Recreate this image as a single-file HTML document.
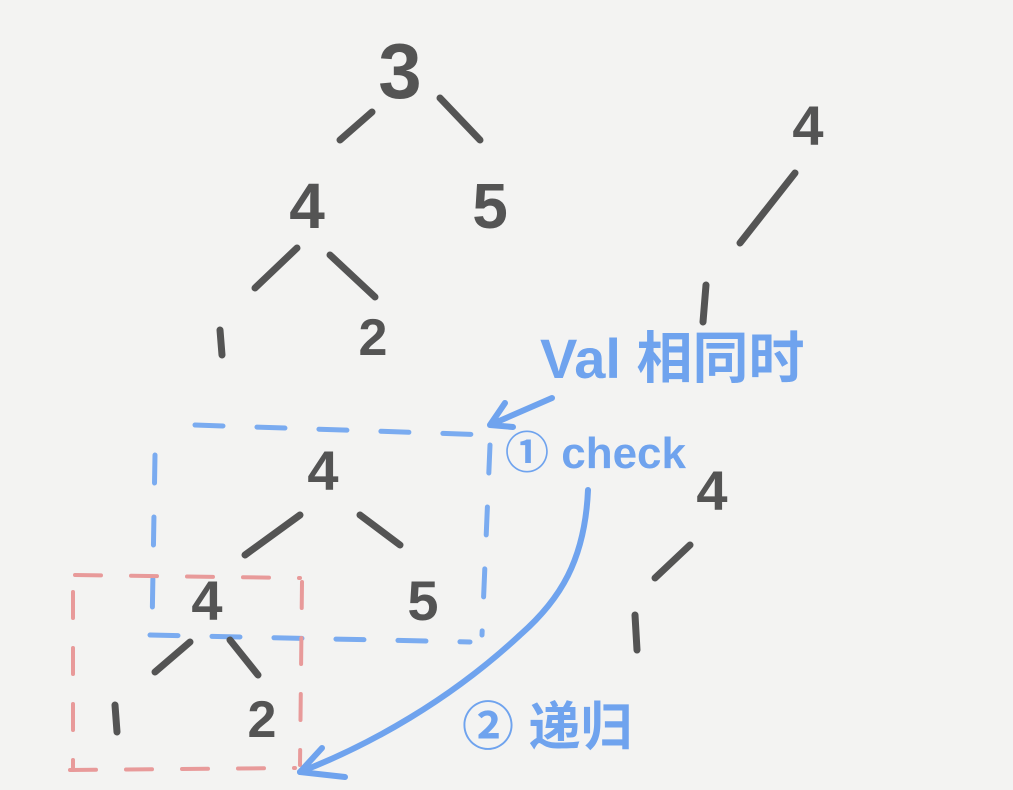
<!DOCTYPE html>
<html><head><meta charset="utf-8"><style>
html,body{margin:0;padding:0;background:#f3f3f2;}
svg{display:block}
.k{stroke:#545454;stroke-width:7;stroke-linecap:round;fill:none}
.b{stroke:#6fa3ee;stroke-width:6;stroke-linecap:round;fill:none}
.bd{stroke:#7aabf0;stroke-width:5;stroke-linecap:round;fill:none;stroke-dasharray:28 34}
.rd{stroke:#e89a9a;stroke-width:4;stroke-linecap:round;fill:none;stroke-dasharray:26 30}
.t{font-family:"Liberation Sans",sans-serif;fill:#545454;text-anchor:middle;font-weight:bold}
.bt{font-family:"Liberation Sans","Noto Sans CJK SC",sans-serif;fill:#6fa3ee;font-weight:bold}
</style></head><body>
<svg width="1013" height="790" viewBox="0 0 1013 790">
<rect width="1013" height="790" fill="#f3f3f2"/>
<text class="t" x="400" y="98" font-size="78">3</text>
<line class="k" x1="340" y1="140" x2="372" y2="112"/>
<line class="k" x1="440" y1="98" x2="480" y2="140"/>
<text class="t" x="307" y="228" font-size="64">4</text>
<text class="t" x="490" y="228" font-size="64">5</text>
<line class="k" x1="255" y1="288" x2="297" y2="248"/>
<line class="k" x1="330" y1="255" x2="375" y2="297"/>
<line class="k" x1="220" y1="330" x2="222" y2="355"/>
<text class="t" x="373" y="355" font-size="52">2</text>
<text class="t" x="808" y="145" font-size="56">4</text>
<line class="k" x1="795" y1="173" x2="740" y2="243"/>
<line class="k" x1="706" y1="285" x2="703" y2="322"/>
<text class="bt" x="540" y="378" font-size="56">Val 相同时</text>
<path class="b" d="M552 398 L490 425 M490 425 L505 403 M490 425 L513 427"/>
<text class="bt" x="505" y="468" font-size="44">① check</text>
<line class="bd" x1="195" y1="425" x2="490" y2="435"/>
<line class="bd" x1="155" y1="455" x2="152" y2="630"/>
<line class="bd" x1="150" y1="635" x2="470" y2="642"/>
<line class="bd" x1="490" y1="445" x2="482" y2="635"/>
<line class="rd" x1="75" y1="575" x2="300" y2="578"/>
<line class="rd" x1="73" y1="592" x2="73" y2="770"/>
<line class="rd" x1="70" y1="770" x2="295" y2="768"/>
<line class="rd" x1="302" y1="582" x2="300" y2="765"/>
<text class="t" x="323" y="490" font-size="56">4</text>
<line class="k" x1="300" y1="515" x2="245" y2="555"/>
<line class="k" x1="360" y1="515" x2="400" y2="545"/>
<text class="t" x="207" y="620" font-size="56">4</text>
<text class="t" x="423" y="620" font-size="56">5</text>
<line class="k" x1="155" y1="672" x2="190" y2="642"/>
<line class="k" x1="230" y1="640" x2="258" y2="675"/>
<line class="k" x1="115" y1="705" x2="117" y2="732"/>
<text class="t" x="262" y="737" font-size="52">2</text>
<text class="t" x="712" y="510" font-size="56">4</text>
<line class="k" x1="690" y1="545" x2="655" y2="578"/>
<line class="k" x1="635" y1="615" x2="637" y2="650"/>
<path class="b" d="M588 490 C585 560 560 600 520 635 C450 700 370 745 300 772"/>
<path class="b" d="M300 772 L322 748 M300 772 L345 777"/>
<text class="bt" x="462" y="745" font-size="52">② 递归</text>
</svg>
</body></html>
